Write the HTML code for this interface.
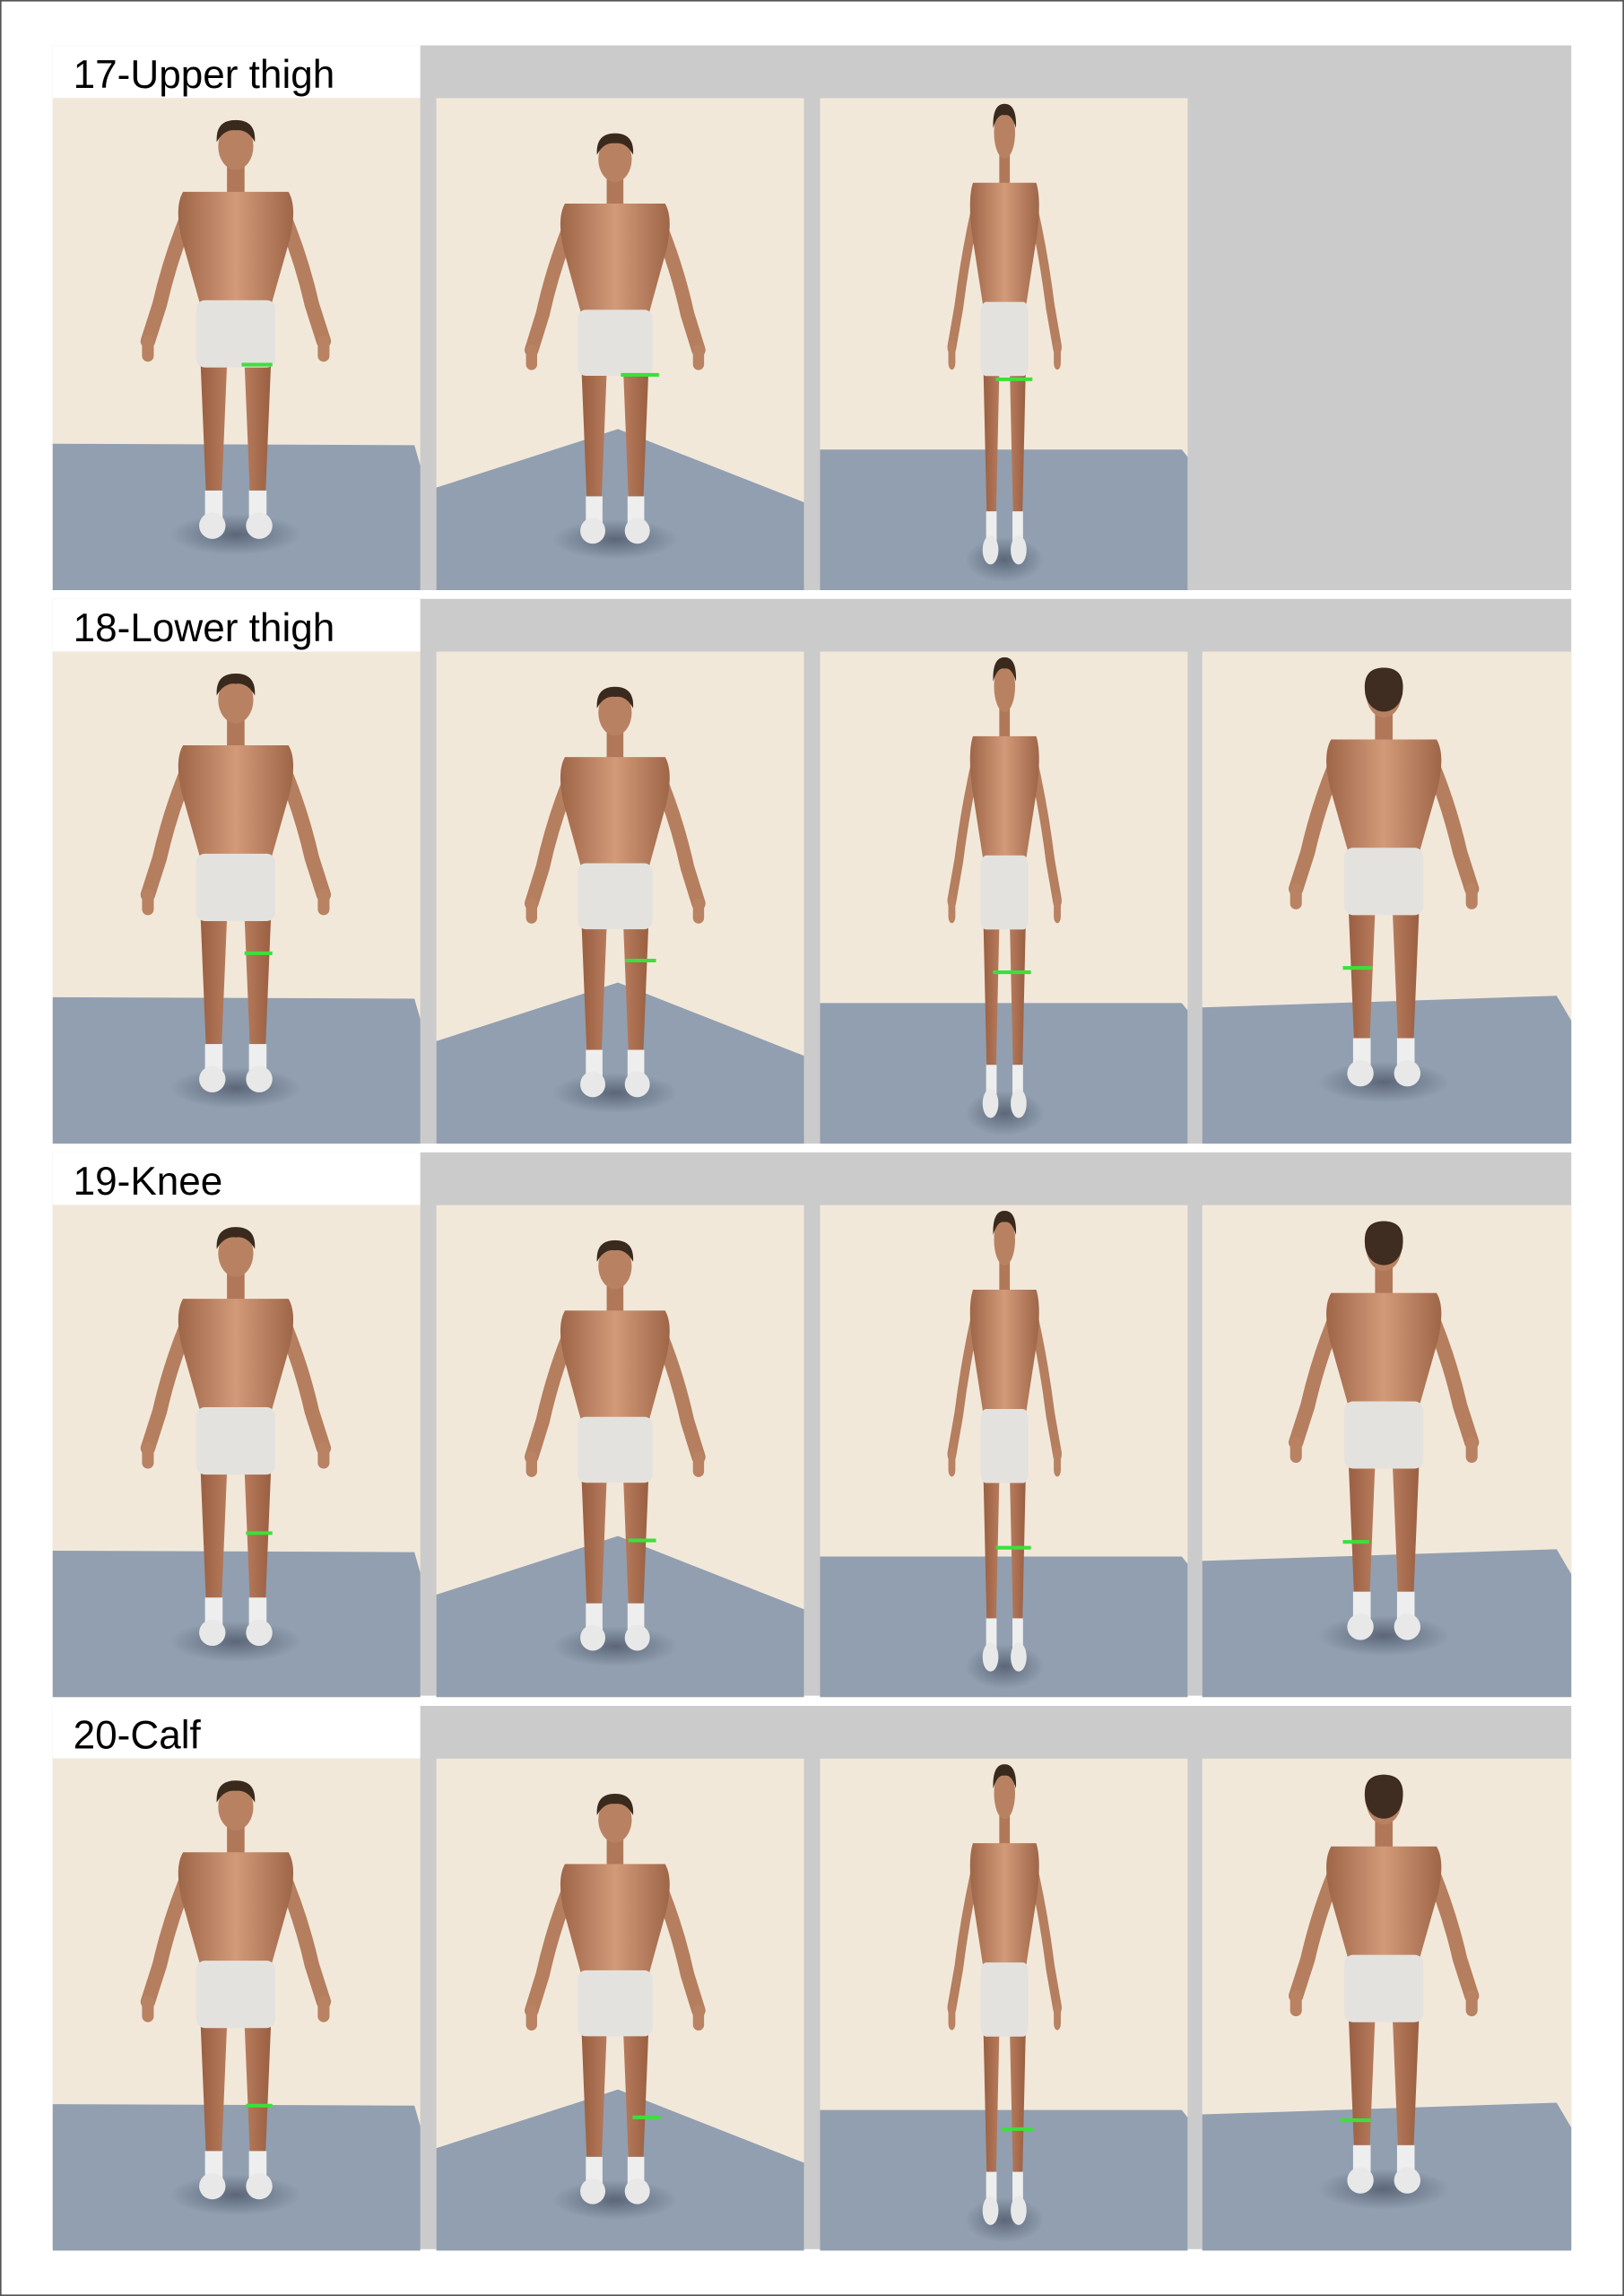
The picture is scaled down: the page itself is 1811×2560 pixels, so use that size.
<!DOCTYPE html>
<html><head><meta charset="utf-8"><style>
html,body{margin:0;padding:0;background:#fff;}
svg{display:block;}
</style></head><body>
<svg width="1811" height="2560" viewBox="0 0 1109 1568" preserveAspectRatio="none" xmlns="http://www.w3.org/2000/svg">
<defs>
<radialGradient id="sh" cx="50%" cy="50%" r="50%"><stop offset="0" stop-color="#4a5566" stop-opacity="0.75"/><stop offset="1" stop-color="#4a5566" stop-opacity="0"/></radialGradient>
<linearGradient id="sk" x1="0" x2="1"><stop offset="0" stop-color="#9e6648"/><stop offset="0.5" stop-color="#d29a78"/><stop offset="1" stop-color="#9e6648"/></linearGradient>
<linearGradient id="lg" x1="0" x2="1"><stop offset="0" stop-color="#9a5f42"/><stop offset="0.5" stop-color="#c08464"/><stop offset="1" stop-color="#9a5f42"/></linearGradient>
<g id="fig">
  <ellipse cx="0" cy="282" rx="45" ry="14" fill="url(#sh)"/>
  <path d="M-30,58 Q-44,90 -52,125 L-60,150 M30,58 Q44,90 52,125 L60,150" stroke="#b57e5e" stroke-width="10" stroke-linecap="round" fill="none"/>
  <path d="M-60,150 L-60,160 M60,150 L60,160" stroke="#b98262" stroke-width="8" stroke-linecap="round"/>
  <rect x="-6" y="30" width="12" height="20" fill="#b07858"/>
  <path d="M-36,48 L36,48 Q42,58 37,80 L24,126 L-24,126 L-37,80 Q-42,58 -36,48 Z" fill="url(#sk)"/>
  <path d="M-24,166 L-6,166 L-10,262 L-20,262 Z M6,166 L24,166 L20,262 L10,262 Z" fill="url(#lg)"/>
  <rect x="-27" y="122" width="54" height="46" rx="6" fill="#e4e2de"/>
  <rect x="-21" y="252" width="12" height="20" fill="#eeeeee"/>
  <rect x="9" y="252" width="12" height="20" fill="#eeeeee"/>
  <ellipse cx="-16" cy="276" rx="9" ry="9" fill="#e8e8e8"/>
  <ellipse cx="16" cy="276" rx="9" ry="9" fill="#e8e8e8"/>
  <ellipse cx="0" cy="17" rx="12" ry="16" fill="#b88262"/>
  <path d="M-13,14 Q-14,-1 0,-1 Q14,-1 13,14 Q8,5 0,6 Q-8,5 -13,14 Z" fill="#3a2a1e"/>
</g>
<g id="figb">
  <use href="#fig"/>
  <ellipse cx="0" cy="14" rx="13" ry="15" fill="#3e2d20"/>
</g>
<g id="cells">
  <rect x="36" y="0" width="251" height="336" fill="#f2e8da"/>
  <rect x="298" y="0" width="251" height="336" fill="#f2e8da"/>
  <rect x="560" y="0" width="251" height="336" fill="#f2e8da"/>
  <polygon points="36,236 283,237 287,251 287,336 36,336" fill="#919fb0"/>
  <polygon points="298,266 422,226 549,276 549,336 298,336" fill="#919fb0"/>
  <polygon points="560,240 807,240 811,245 811,336 560,336" fill="#919fb0"/>
  <use href="#fig" transform="translate(161,16)"/>
  <use href="#fig" transform="translate(420,25) scale(0.95,0.98)"/>
  <use href="#fig" transform="translate(686,5) scale(0.6,1.1)"/>
</g>
<g id="c4">
  <rect x="821" y="0" width="252" height="336" fill="#f2e8da"/>
  <polygon points="821,243 1063,235 1073,252 1073,336 821,336" fill="#919fb0"/>
  <use href="#figb" transform="translate(945,12)"/>
</g>
</defs>
<rect x="0.5" y="0.5" width="1108" height="1567" fill="#fff" stroke="#555" stroke-width="1"/>

<g font-family="Liberation Sans, sans-serif" font-size="27" fill="#000">
<rect x="36" y="31" width="1037" height="372" fill="#cbcbcb"/>
<rect x="36" y="31" width="251" height="36" fill="#fff"/>
<text x="50" y="60">17-Upper thigh</text>
<use href="#cells" transform="translate(0,67)"/>
<line x1="165" y1="249" x2="186" y2="249" stroke="#3be03b" stroke-width="2.5"/>
<line x1="424" y1="256" x2="450" y2="256" stroke="#3be03b" stroke-width="2.5"/>
<line x1="680" y1="259" x2="705" y2="259" stroke="#3be03b" stroke-width="2.5"/>

<rect x="36" y="409" width="1037" height="372" fill="#cbcbcb"/>
<rect x="36" y="409" width="251" height="36" fill="#fff"/>
<text x="50" y="438">18-Lower thigh</text>
<use href="#cells" transform="translate(0,445)"/>
<use href="#c4" transform="translate(0,445)"/>
<line x1="167" y1="651" x2="186" y2="651" stroke="#3be03b" stroke-width="2.5"/>
<line x1="427" y1="656" x2="448" y2="656" stroke="#3be03b" stroke-width="2.5"/>
<line x1="678" y1="664" x2="704" y2="664" stroke="#3be03b" stroke-width="2.5"/>
<line x1="917" y1="661" x2="937" y2="661" stroke="#3be03b" stroke-width="2.5"/>

<rect x="36" y="787" width="1037" height="371" fill="#cbcbcb"/>
<rect x="36" y="787" width="251" height="36" fill="#fff"/>
<text x="50" y="816">19-Knee</text>
<use href="#cells" transform="translate(0,823)"/>
<use href="#c4" transform="translate(0,823)"/>
<line x1="168" y1="1047" x2="186" y2="1047" stroke="#3be03b" stroke-width="2.5"/>
<line x1="429" y1="1052" x2="448" y2="1052" stroke="#3be03b" stroke-width="2.5"/>
<line x1="680" y1="1057" x2="704" y2="1057" stroke="#3be03b" stroke-width="2.5"/>
<line x1="917" y1="1053" x2="935" y2="1053" stroke="#3be03b" stroke-width="2.5"/>

<rect x="36" y="1165" width="1037" height="371" fill="#cbcbcb"/>
<rect x="36" y="1165" width="251" height="36" fill="#fff"/>
<text x="50" y="1194">20-Calf</text>
<use href="#cells" transform="translate(0,1201)"/>
<use href="#c4" transform="translate(0,1201)"/>
<line x1="168" y1="1438" x2="186" y2="1438" stroke="#3be03b" stroke-width="2.5"/>
<line x1="432" y1="1446" x2="451" y2="1446" stroke="#3be03b" stroke-width="2.5"/>
<line x1="684" y1="1454" x2="706" y2="1454" stroke="#3be03b" stroke-width="2.5"/>
<line x1="915" y1="1448" x2="936" y2="1448" stroke="#3be03b" stroke-width="2.5"/>
</g>
</svg>
</body></html>
